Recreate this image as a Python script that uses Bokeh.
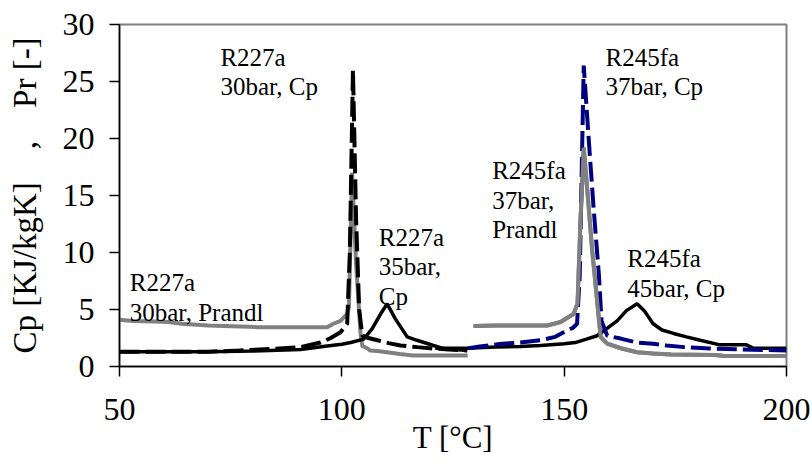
from bokeh.plotting import figure
from bokeh.models import Range1d, FixedTicker, Label
from bokeh.embed import file_html
from bokeh.resources import INLINE

# ---------------- data ----------------
x_ticks = [50, 100, 150, 200]
y_ticks = [0, 5, 10, 15, 20, 25, 30]

r227_30_pr_x = [50, 53, 58, 61, 64, 70, 81, 90, 96.7, 98.1, 99.7, 100.4, 101.2, 101.6, 102.3,
                103.2, 104.2, 104.6, 105.7, 106.4, 108, 110.2, 113, 116, 120, 128.3]
r227_30_pr_y = [4.1, 4.0, 3.95, 3.9, 3.75, 3.6, 3.45, 3.45, 3.45, 3.75, 4.0, 4.3, 4.6, 5.2, 17.0,
                9.0, 2.9, 1.8, 1.6, 1.4, 1.35, 1.25, 1.1, 0.96, 0.96, 0.96]

r227_30_cp_x = [50, 60, 70, 77, 85, 90.7, 95.2, 97.5, 99.7, 101.2, 101.8, 102.5, 103.2, 103.9,
                104.6, 106, 108, 110.5, 113.2, 117, 120.6, 124, 128.2]
r227_30_cp_y = [1.3, 1.3, 1.3, 1.4, 1.55, 1.7, 2.1, 2.5, 3.0, 3.75, 10.0, 26.0, 13.0, 5.0,
                2.7, 2.5, 2.3, 2.05, 1.84, 1.7, 1.57, 1.5, 1.4]

r227_35_cp_x = [50, 60, 70, 80, 90.7, 96.7, 100, 102, 104.9, 106.8, 108.7, 110.2, 112, 114.7,
                116.9, 120.6, 122.9, 128.2]
r227_35_cp_y = [1.3, 1.3, 1.3, 1.35, 1.5, 1.8, 1.95, 2.1, 2.4, 3.3, 4.6, 5.5, 4.2, 2.6,
                2.3, 1.84, 1.57, 1.4]

r245_37_cp_x = [128.5, 131, 136, 140, 144.7, 148, 149.9, 152, 152.9, 153.5, 154.4, 155.6, 156.6,
                157.8, 158.4, 159.7, 162.7, 166.4, 170, 173, 177, 182.8, 190, 200]
r245_37_cp_y = [1.6, 1.75, 2.0, 2.1, 2.3, 2.6, 3.0, 3.4, 3.75, 8.0, 26.4, 19.5, 14.0,
                8.1, 4.0, 2.7, 2.45, 2.1, 2.0, 1.84, 1.7, 1.57, 1.5, 1.4]

r245_37_pr_x = [129.6, 135, 140, 146.2, 149.2, 152.1, 153.0, 153.6, 154.4, 155.3, 156.3, 157.4,
                158.2, 159.7, 162.7, 166.4, 170, 174, 184, 186, 200]
r245_37_pr_y = [3.55, 3.6, 3.6, 3.6, 3.9, 4.6, 5.5, 12.0, 19.2, 15.0, 10.2, 5.8,
                2.6, 2.0, 1.6, 1.25, 1.15, 1.05, 1.0, 0.93, 0.93]

r245_45_cp_x = [121, 128, 134.6, 140, 144.7, 150, 152.5, 155, 157.4, 159.5, 161.9, 164, 166.4,
                168, 170, 172, 174.6, 177.5, 180.6, 185, 191, 192.6, 200]
r245_45_cp_y = [1.6, 1.6, 1.7, 1.75, 1.84, 2.0, 2.1, 2.4, 2.7, 3.3, 4.0, 4.9, 5.5,
                4.9, 3.75, 3.2, 2.9, 2.6, 2.3, 1.9, 1.9, 1.6, 1.6]

notes = [
    ["R227a", "30bar, Prandl"],
    ["R227a", "30bar, Cp"],
    ["R227a", "35bar,", "Cp"],
    ["R245fa", "37bar, Cp"],
    ["R245fa", "37bar,", "Prandl"],
    ["R245fa", "45bar, Cp"],
]

x_label = "T [°C]"
y_label = "Cp [KJ/kgK]\u00a0\u00a0\u00a0\u00a0,\u00a0\u00a0\u00a0\u00a0Pr [-]"

# ---------------- layout / style ----------------
FONT = "Liberation Serif"
GRAY = "#808080"
NAVY = "#000080"

p = figure(width=812, height=464, x_range=Range1d(50, 200), y_range=Range1d(0, 30),
           output_backend="svg", toolbar_location=None,
           min_border_left=119, min_border_right=26, min_border_top=24, min_border_bottom=98)
p.background_fill_color = "white"
p.border_fill_color = "white"
p.outline_line_color = GRAY
p.outline_line_width = 2
p.xgrid.visible = False
p.ygrid.visible = False

for ax in (p.xaxis[0], p.yaxis[0]):
    ax.axis_line_color = "black"
    ax.axis_line_width = 1.5
    ax.major_tick_line_color = "black"
    ax.major_tick_line_width = 1.5
    ax.major_tick_out = 10
    ax.major_tick_in = 0
    ax.minor_tick_line_color = None
    ax.major_label_text_font = FONT
    ax.major_label_text_font_size = "32px"
    ax.major_label_text_color = "black"
    ax.axis_label_text_font = FONT
    ax.axis_label_text_font_style = "normal"
    ax.axis_label_text_color = "black"

p.xaxis.axis_label_text_font_size = "31px"
p.yaxis.axis_label_text_font_size = "33px"
p.xaxis.ticker = FixedTicker(ticks=x_ticks)
p.yaxis.ticker = FixedTicker(ticks=y_ticks)
p.xaxis.major_label_standoff = 22
p.yaxis.major_label_standoff = 15
p.xaxis.axis_label = x_label
p.yaxis.axis_label = y_label
p.xaxis.axis_label_standoff = -3
p.yaxis.axis_label_standoff = 17

# ---------------- lines ----------------
p.line(r227_30_pr_x, r227_30_pr_y, line_color=GRAY, line_width=4)
p.line(r245_37_pr_x, r245_37_pr_y, line_color=GRAY, line_width=4)
p.line(r227_35_cp_x, r227_35_cp_y, line_color="black", line_width=3.5)
p.line(r245_45_cp_x, r245_45_cp_y, line_color="black", line_width=3.5)
p.line(r227_30_cp_x, r227_30_cp_y, line_color="black", line_width=4, line_dash="20 6")
p.line(r245_37_cp_x, r245_37_cp_y, line_color=NAVY, line_width=4, line_dash="20 6")
# redraw the Prandl peak on top, as in the reference
p.line(r245_37_pr_x, r245_37_pr_y, line_color=GRAY, line_width=4)

# ---------------- annotations ----------------
note_pos = [(52.3, 7.34), (72.7, 27.13), (108.3, 11.34), (159.3, 27.13), (133.8, 17.19), (164.2, 9.43)]
line_step = 2.6
for lines, (nx, ny) in zip(notes, note_pos):
    for i, t in enumerate(lines):
        p.add_layout(Label(x=nx, y=ny - i * line_step, text=t, text_font=FONT,
                           text_font_size="25px", text_color="black",
                           text_baseline="alphabetic", text_align="left"))

open("out.html", "w").write(file_html(p, INLINE))
